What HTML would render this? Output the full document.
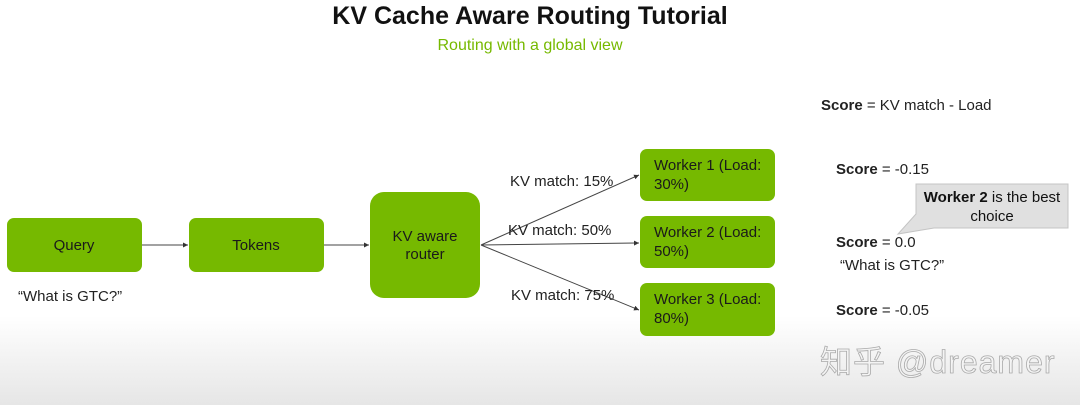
<!DOCTYPE html>
<html><head><meta charset="utf-8">
<style>
html,body{margin:0;padding:0;background:#fff}
svg{display:block}
text{font-family:"Liberation Sans","Noto Sans CJK SC",sans-serif}
</style></head>
<body>
<svg width="1080" height="405" viewBox="0 0 1080 405" xmlns="http://www.w3.org/2000/svg">
<defs>
<linearGradient id="bg" x1="0" y1="0" x2="0" y2="1">
<stop offset="0" stop-color="#ffffff"/>
<stop offset="0.78" stop-color="#ffffff"/>
<stop offset="0.9" stop-color="#f1f1f1"/>
<stop offset="1" stop-color="#e6e6e6"/>
</linearGradient>
<marker id="ar" markerWidth="6" markerHeight="6" refX="5" refY="3" orient="auto"><path d="M0,0.5 L5,3 L0,5.5z" fill="#333"/></marker>
</defs>
<rect width="1080" height="405" fill="url(#bg)"/>
<text x="530" y="24" text-anchor="middle" font-size="25" font-weight="bold" fill="#111">KV Cache Aware Routing Tutorial</text>
<text x="530" y="50" text-anchor="middle" font-size="16" fill="#76b900">Routing with a global view</text>
<text x="821" y="110" font-size="15" fill="#222"><tspan font-weight="bold">Score</tspan> = KV match - Load</text>

<g fill="#76b900">
<rect x="7" y="218" width="135" height="54" rx="7"/>
<rect x="189" y="218" width="135" height="54" rx="7"/>
<rect x="370" y="192" width="110" height="106" rx="14"/>
<rect x="640" y="149" width="135" height="52" rx="7"/>
<rect x="640" y="216" width="135" height="52" rx="7"/>
<rect x="640" y="283" width="135" height="53" rx="7"/>
</g>
<g stroke="#444" stroke-width="1" fill="none">
<line x1="142" y1="245" x2="188" y2="245" marker-end="url(#ar)"/>
<line x1="324" y1="245" x2="369" y2="245" marker-end="url(#ar)"/>
<line x1="481" y1="245" x2="639" y2="175" marker-end="url(#ar)"/>
<line x1="481" y1="245" x2="639" y2="243" marker-end="url(#ar)"/>
<line x1="481" y1="245" x2="639" y2="310" marker-end="url(#ar)"/>
</g>
<g font-size="15" fill="#1a1a1a">
<text x="74" y="250" text-anchor="middle">Query</text>
<text x="256" y="250" text-anchor="middle">Tokens</text>
<text x="425" y="241" text-anchor="middle">KV  aware</text>
<text x="425" y="259" text-anchor="middle">router</text>
<text x="654" y="170">Worker 1 (Load:</text><text x="654" y="189">30%)</text>
<text x="654" y="237">Worker 2 (Load:</text><text x="654" y="256">50%)</text>
<text x="654" y="304">Worker 3 (Load:</text><text x="654" y="323">80%)</text>
</g>
<g font-size="15" fill="#222">
<text x="18" y="301">“What is GTC?”</text>
<text x="510" y="186">KV match: 15%</text>
<text x="508" y="235">KV match: 50%</text>
<text x="511" y="300">KV match: 75%</text>
<text x="836" y="174"><tspan font-weight="bold">Score</tspan> = -0.15</text>
<text x="836" y="247"><tspan font-weight="bold">Score</tspan> = 0.0</text>
<text x="840" y="270">“What is GTC?”</text>
<text x="836" y="315"><tspan font-weight="bold">Score</tspan> = -0.05</text>
</g>
<path d="M916,184 L1068,184 L1068,228 L934,228 L898,234 L916,214z" fill="#e0e0e0" stroke="#c4c4c4"/>
<text x="992" y="202" text-anchor="middle" font-size="15" fill="#111"><tspan font-weight="bold">Worker 2</tspan> is the best</text>
<text x="992" y="221" text-anchor="middle" font-size="15" fill="#111">choice</text>
<text x="820" y="373" font-size="32" fill="#f4f4f4" stroke="#aaa" stroke-width="0.8" letter-spacing="1">知乎 @dreamer</text>
</svg>
</body></html>
